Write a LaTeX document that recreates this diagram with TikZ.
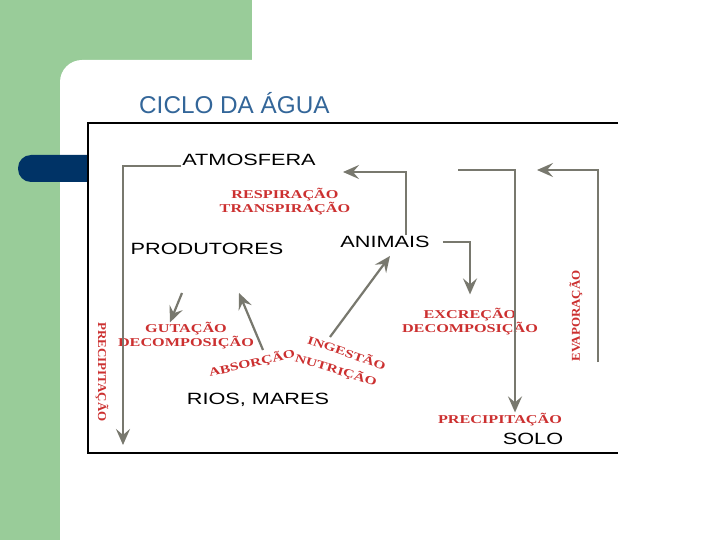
\documentclass[tikz,border=0pt]{standalone}
\usepackage{fontspec}
\setmainfont{Liberation Sans}
\newfontfamily\labelfont[FakeStretch=1.33]{Liberation Sans}
\newfontfamily\notefont[FakeStretch=1.35]{Liberation Serif}
\newfontfamily\sidefont[FakeStretch=1.08]{Liberation Serif}
\usetikzlibrary{arrows.meta}
\definecolor{slidegreen}{HTML}{99CC99}
\definecolor{slideblue}{HTML}{003366}
\definecolor{titleblue}{HTML}{336699}
\definecolor{notered}{HTML}{CC3030}
\definecolor{flowgray}{HTML}{78786E}

\begin{document}
\begin{tikzpicture}[x=1pt, y=-1pt,
  place/.style={font=\labelfont\fontsize{16.3}{18}\selectfont, inner sep=1pt},
  note/.style={font=\notefont\bfseries\fontsize{12}{14}\selectfont, text=notered, align=center, inner sep=1pt},
  tilted/.style={note, font=\notefont\bfseries\fontsize{11.5}{13}\selectfont, inner sep=0pt},
  side/.style={note, font=\sidefont\bfseries\fontsize{12}{14}\selectfont},
  flow/.style={draw=flowgray, line width=2.2pt, -{Stealth[length=16pt, width=14pt, inset=6pt]}}]
\useasboundingbox (0,0) rectangle (720,540);
% slide
\fill[slidegreen] (0,0) rectangle (252,80);
\fill[slidegreen] (0,0) rectangle (80,540);
\fill[white, rounded corners=22pt] (60,60) rectangle (760,580);
\fill[slideblue, rounded corners=13pt] (18,155) rectangle (140,182);
\node[font=\fontsize{24.3}{27}\selectfont, text=titleblue, anchor=west, inner sep=0pt] (title) at (139,103) {CICLO DA ÁGUA};
% frame
\fill[white] (88,123) rectangle (618,453);
\draw[line width=1.5pt] (618,123) -- (88,123) -- (88,453) -- (618,453);

% places
\node[place] (atm) at (249,160) {ATMOSFERA};
\node[place] (prod) at (207,249) {PRODUTORES};
\node[place] (anim) at (385,242) {ANIMAIS};
\node[place] (rios) at (258,400) {RIOS, MARES};
\node[place] (solo) at (533,439) {SOLO};

% processes
\node[note] (resp) at (285,202) {RESPIRAÇÃO\\TRANSPIRAÇÃO};
\node[note] (gut) at (186,336) {GUTAÇÃO\\DECOMPOSIÇÃO};
\node[note] (excr) at (470,322) {EXCREÇÃO\\DECOMPOSIÇÃO};
\node[note] (precsolo) at (500,420) {PRECIPITAÇÃO};
\node[side, rotate=-90] (precrios) at (102,372) {PRECIPITAÇÃO};
\node[side, rotate=90] (evap) at (576,316) {EVAPORAÇÃO};
\node[tilted, rotate=13] (absor) at (252,363) {ABSORÇÃO};
\node[tilted, rotate=-19] (inges) at (347,352) {INGESTÃO};
\node[tilted, rotate=-17] (nutr) at (336,370) {NUTRIÇÃO};

% flows
\coordinate (rainleft) at (123,445);
\coordinate (breathup) at (406,172);
\coordinate (breathin) at (343,172);
\coordinate (rainright) at (458,170);
\coordinate (evapfoot) at (598,362);
\coordinate (evapin) at (537,170);

\draw[flow] (atm.base west) -| (rainleft);
\draw[flow] (anim.north -| breathup) -- (breathup) -- (breathin);
\draw[flow] (rainright) -| ([xshift=15pt]precsolo.north);
\draw[flow] (evapfoot) |- (evapin);
\draw[flow] ([xshift=12pt]anim.east) -| ([yshift=13pt]excr.north);
\draw[flow] ([xshift=-25pt, yshift=-37pt]prod.south) -- ([xshift=-16pt, yshift=-1pt]gut.north);
\draw[flow] ([xshift=11pt, yshift=13pt]absor.center) -- ([xshift=32pt, yshift=-37pt]prod.south);
\draw[flow] ([xshift=-17pt, yshift=15pt]inges.center) -- ([xshift=5pt, yshift=-7pt]anim.south);
\end{tikzpicture}
\end{document}
